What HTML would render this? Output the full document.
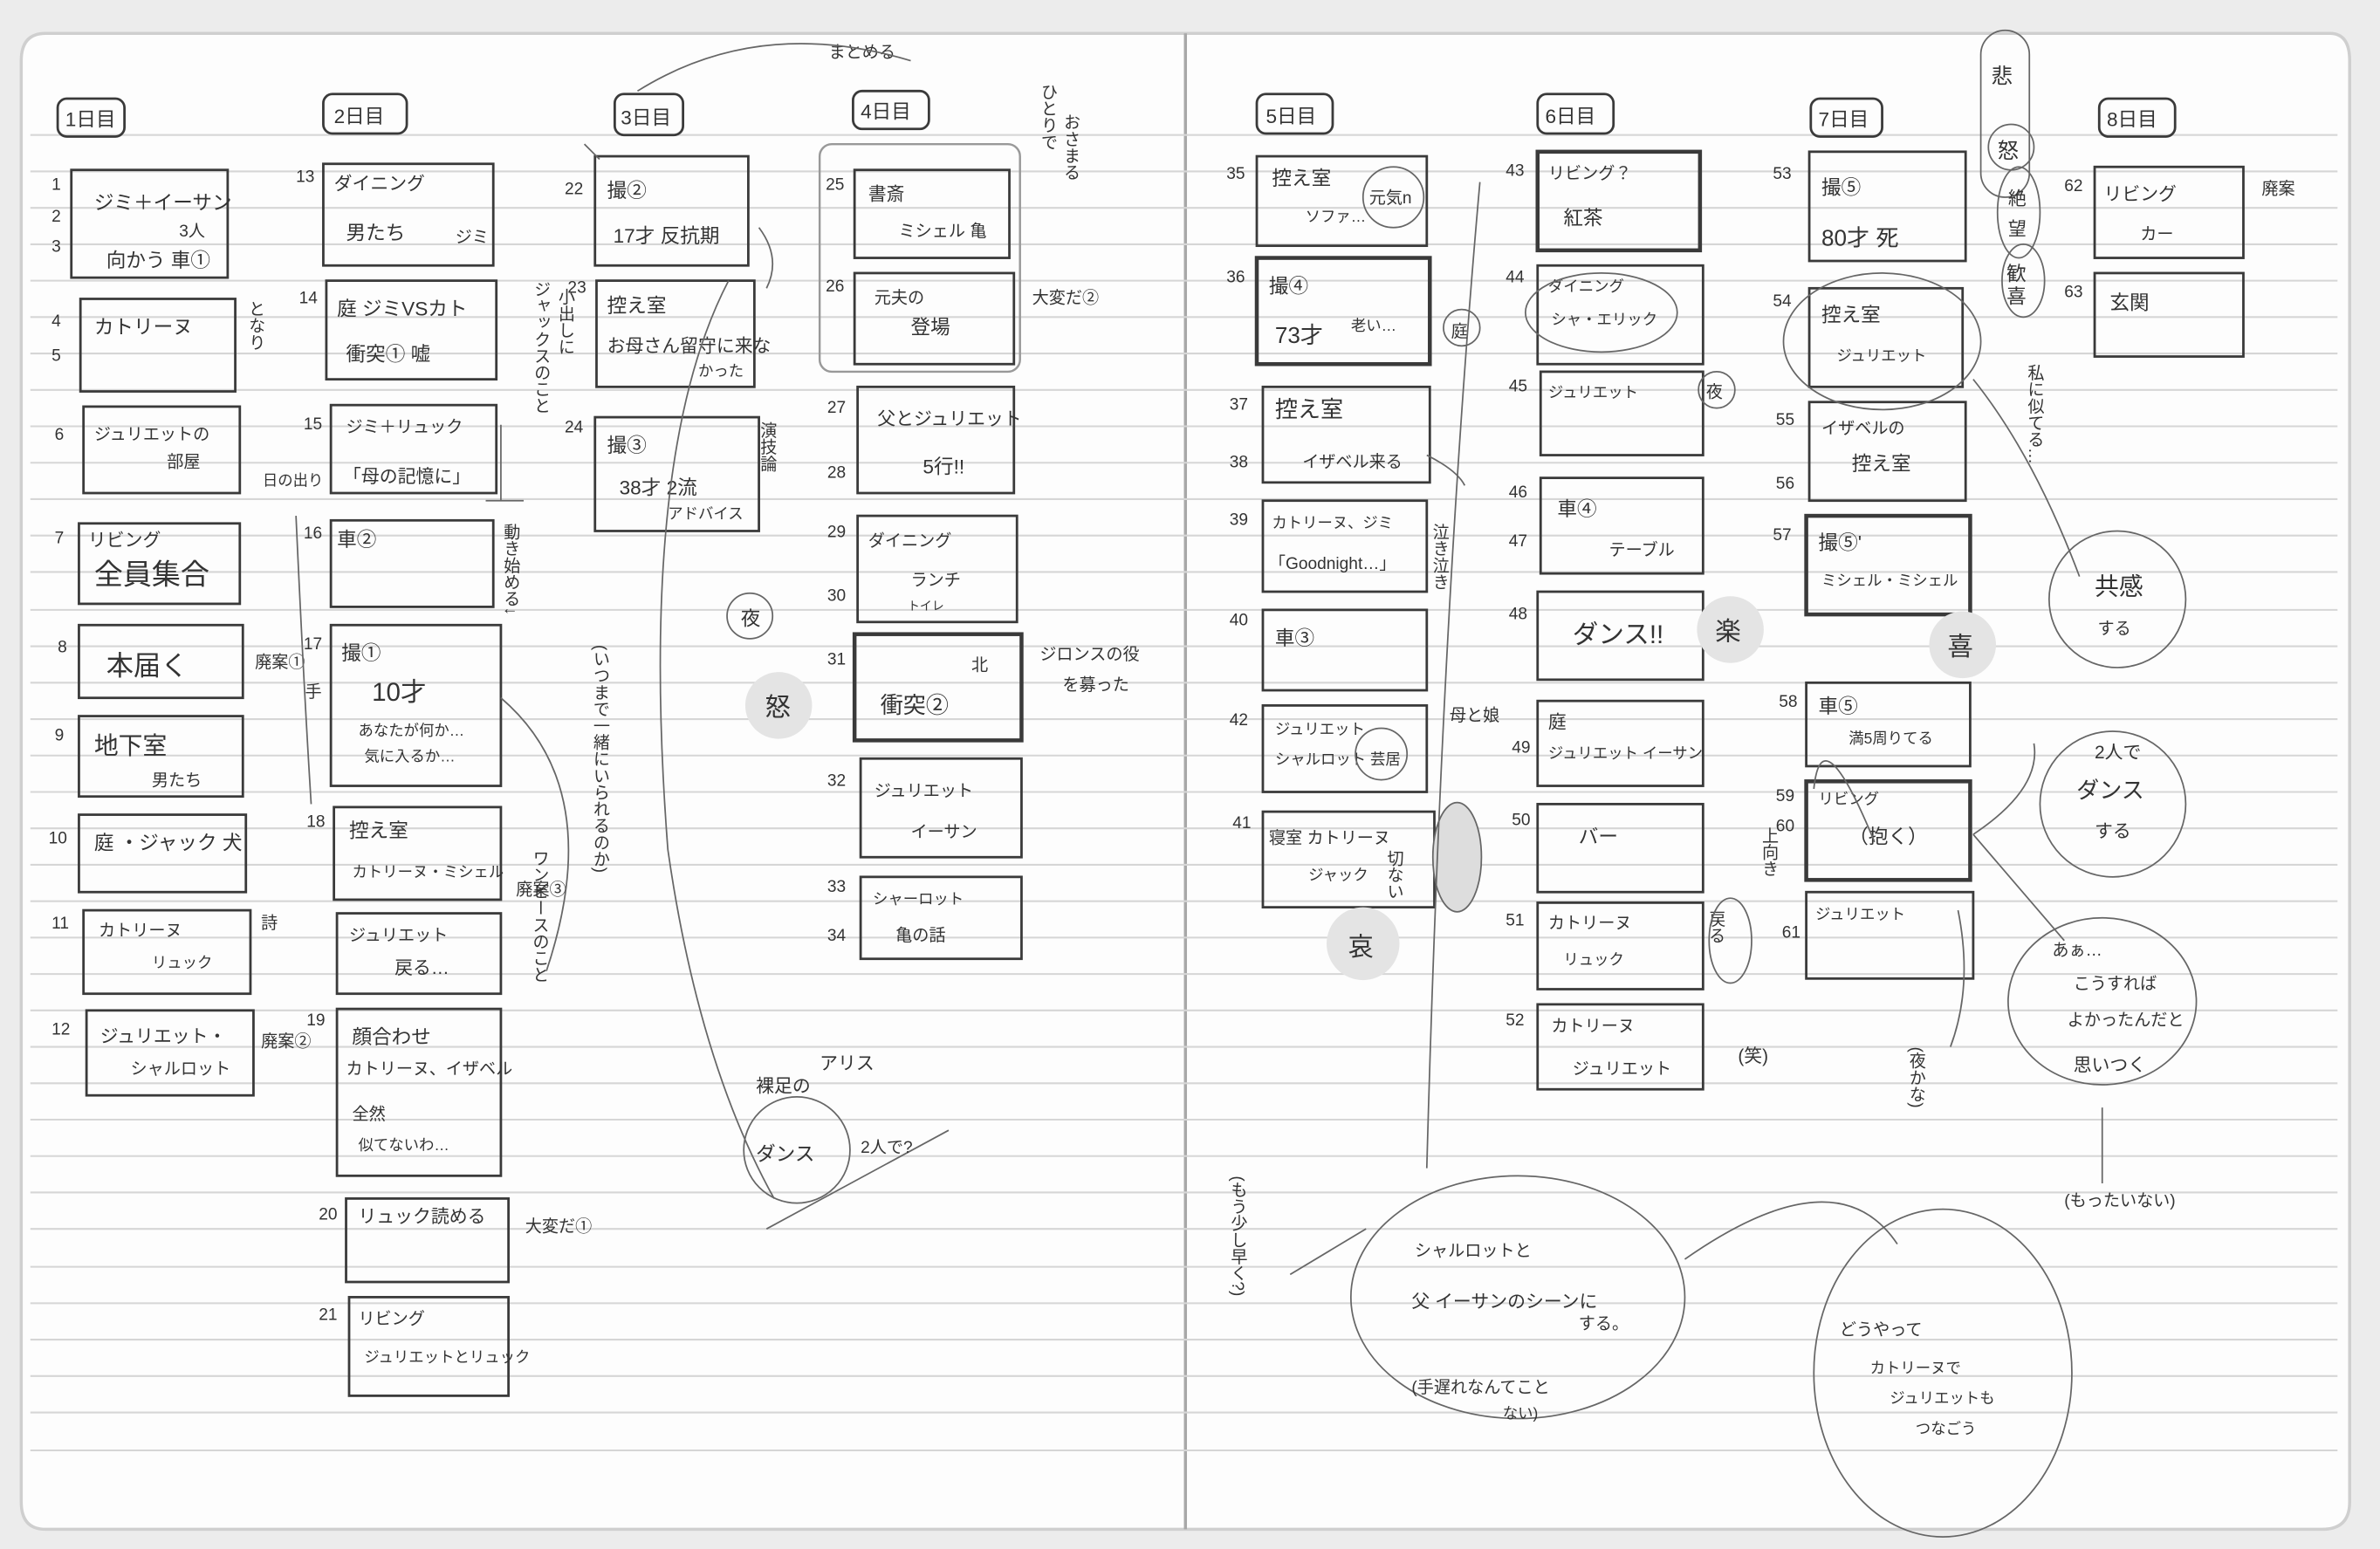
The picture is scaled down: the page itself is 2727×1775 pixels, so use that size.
<!DOCTYPE html>
<html><head><meta charset="utf-8"><style>
html,body{margin:0;padding:0;background:#e9e9e9;}
svg{display:block}
text{font-family:"Liberation Sans","Noto Sans CJK JP",sans-serif;fill:#333;}
.b{fill:none;stroke:#3a3a3a;stroke-width:1.6}
.t{fill:none;stroke:#666;stroke-width:1}
.n{font-size:11px;fill:#444}
.s{font-size:13px}
.m{font-size:16px}
</style></head><body>
<svg width="2727" height="1775" viewBox="0 0 1568 1021" preserveAspectRatio="none" xmlns="http://www.w3.org/2000/svg">
<rect x="0" y="0" width="1568" height="1021" fill="#ececec"/>
<path d="M30 22 H1535 Q1548 22 1548 40 V990 Q1548 1008 1530 1008 H30 Q14 1008 14 990 V40 Q14 22 30 22 Z" fill="#fdfdfd" stroke="#cfcfcf" stroke-width="2"/>
<line x1="781" y1="22" x2="781" y2="1008" stroke="#a8a8a8" stroke-width="2"/>
<g stroke="#d6d6d6" stroke-width="1.2">
<line x1="20" y1="89" x2="1540" y2="89"/><line x1="20" y1="113" x2="1540" y2="113"/><line x1="20" y1="137" x2="1540" y2="137"/><line x1="20" y1="161" x2="1540" y2="161"/><line x1="20" y1="185" x2="1540" y2="185"/><line x1="20" y1="209" x2="1540" y2="209"/><line x1="20" y1="233" x2="1540" y2="233"/><line x1="20" y1="257" x2="1540" y2="257"/><line x1="20" y1="281" x2="1540" y2="281"/><line x1="20" y1="305" x2="1540" y2="305"/><line x1="20" y1="329" x2="1540" y2="329"/><line x1="20" y1="353" x2="1540" y2="353"/><line x1="20" y1="377" x2="1540" y2="377"/><line x1="20" y1="402" x2="1540" y2="402"/><line x1="20" y1="426" x2="1540" y2="426"/><line x1="20" y1="450" x2="1540" y2="450"/><line x1="20" y1="474" x2="1540" y2="474"/><line x1="20" y1="498" x2="1540" y2="498"/><line x1="20" y1="522" x2="1540" y2="522"/><line x1="20" y1="546" x2="1540" y2="546"/><line x1="20" y1="570" x2="1540" y2="570"/><line x1="20" y1="594" x2="1540" y2="594"/><line x1="20" y1="618" x2="1540" y2="618"/><line x1="20" y1="642" x2="1540" y2="642"/><line x1="20" y1="666" x2="1540" y2="666"/><line x1="20" y1="690" x2="1540" y2="690"/><line x1="20" y1="714" x2="1540" y2="714"/><line x1="20" y1="738" x2="1540" y2="738"/><line x1="20" y1="762" x2="1540" y2="762"/><line x1="20" y1="786" x2="1540" y2="786"/><line x1="20" y1="810" x2="1540" y2="810"/><line x1="20" y1="835" x2="1540" y2="835"/><line x1="20" y1="859" x2="1540" y2="859"/><line x1="20" y1="883" x2="1540" y2="883"/><line x1="20" y1="907" x2="1540" y2="907"/><line x1="20" y1="931" x2="1540" y2="931"/><line x1="20" y1="956" x2="1540" y2="956"/>
</g>

<g class="b">
<rect x="38" y="65" width="44" height="25" rx="6"/><rect x="213" y="62" width="55" height="26" rx="6"/><rect x="405" y="62" width="45" height="27" rx="6"/><rect x="562" y="60" width="50" height="25" rx="6"/>
<rect x="828" y="62" width="50" height="26" rx="6"/><rect x="1013" y="62" width="50" height="26" rx="6"/><rect x="1193" y="65" width="47" height="25" rx="6"/><rect x="1383" y="65" width="50" height="25" rx="6"/>
</g>
<g class="s"><text x="43" y="83">1日目</text><text x="220" y="81">2日目</text><text x="409" y="82">3日目</text><text x="567" y="78">4日目</text><text x="834" y="81">5日目</text><text x="1018" y="81">6日目</text><text x="1198" y="83">7日目</text><text x="1388" y="83">8日目</text></g>

<g class="b">
<rect x="47" y="112" width="103" height="71"/><rect x="53" y="197" width="102" height="61"/><rect x="55" y="268" width="103" height="57"/><rect x="52" y="345" width="106" height="53"/><rect x="52" y="412" width="108" height="48"/><rect x="52" y="472" width="108" height="53"/><rect x="52" y="537" width="110" height="51"/><rect x="55" y="600" width="110" height="55"/><rect x="57" y="666" width="110" height="56"/>
<rect x="213" y="108" width="112" height="67"/><rect x="215" y="185" width="112" height="65"/><rect x="218" y="267" width="109" height="58"/><rect x="218" y="343" width="107" height="57"/><rect x="218" y="412" width="112" height="106"/><rect x="220" y="532" width="110" height="61"/><rect x="222" y="602" width="108" height="53"/><rect x="222" y="665" width="108" height="110"/><rect x="228" y="790" width="107" height="55"/><rect x="230" y="855" width="105" height="65"/>
<rect x="392" y="103" width="101" height="72"/><rect x="393" y="185" width="104" height="70"/><rect x="392" y="275" width="108" height="75"/>
<rect x="563" y="112" width="102" height="58"/><rect x="563" y="180" width="105" height="60"/><rect x="565" y="255" width="103" height="70"/><rect x="565" y="340" width="105" height="70"/><rect x="563" y="418" width="110" height="70" stroke-width="2.6"/><rect x="567" y="500" width="106" height="65"/><rect x="567" y="578" width="106" height="54"/>
<rect x="828" y="103" width="112" height="59"/><rect x="828" y="170" width="114" height="70" stroke-width="2.6"/><rect x="832" y="255" width="110" height="63"/><rect x="832" y="330" width="108" height="60"/><rect x="832" y="402" width="108" height="53"/><rect x="832" y="465" width="108" height="57"/><rect x="832" y="535" width="113" height="63"/>
<rect x="1013" y="100" width="107" height="65" stroke-width="2.6"/><rect x="1013" y="175" width="109" height="65"/><rect x="1015" y="245" width="107" height="55"/><rect x="1015" y="315" width="107" height="63"/><rect x="1013" y="390" width="109" height="58"/><rect x="1013" y="462" width="109" height="56"/><rect x="1013" y="530" width="109" height="58"/><rect x="1013" y="595" width="109" height="57"/><rect x="1013" y="662" width="109" height="56"/>
<rect x="1192" y="100" width="103" height="72"/><rect x="1192" y="190" width="101" height="65"/><rect x="1192" y="265" width="103" height="65"/><rect x="1190" y="340" width="108" height="65" stroke-width="2.6"/><rect x="1190" y="450" width="108" height="55"/><rect x="1190" y="515" width="108" height="65" stroke-width="2.6"/><rect x="1190" y="588" width="110" height="57"/>
<rect x="1380" y="110" width="98" height="60"/><rect x="1380" y="180" width="98" height="55"/>
</g>
<rect x="540" y="95" width="132" height="150" rx="8" fill="none" stroke="#999" stroke-width="1.4"/>

<g class="n">
<text x="34" y="125">1</text><text x="34" y="146">2</text><text x="34" y="166">3</text><text x="34" y="215">4</text><text x="34" y="238">5</text><text x="36" y="290">6</text><text x="36" y="358">7</text><text x="38" y="430">8</text><text x="36" y="488">9</text><text x="32" y="556">10</text><text x="34" y="612">11</text><text x="34" y="682">12</text>
<text x="195" y="120">13</text><text x="197" y="200">14</text><text x="200" y="283">15</text><text x="200" y="355">16</text><text x="200" y="428">17</text><text x="202" y="545">18</text><text x="202" y="676">19</text><text x="210" y="804">20</text><text x="210" y="870">21</text>
<text x="372" y="128">22</text><text x="374" y="193">23</text><text x="372" y="285">24</text>
<text x="544" y="125">25</text><text x="544" y="192">26</text><text x="545" y="272">27</text><text x="545" y="315">28</text><text x="545" y="354">29</text><text x="545" y="396">30</text><text x="545" y="438">31</text><text x="545" y="518">32</text><text x="545" y="588">33</text><text x="545" y="620">34</text>
<text x="808" y="118">35</text><text x="808" y="186">36</text><text x="810" y="270">37</text><text x="810" y="308">38</text><text x="810" y="346">39</text><text x="810" y="412">40</text><text x="810" y="478">42</text><text x="812" y="546">41</text>
<text x="992" y="116">43</text><text x="992" y="186">44</text><text x="994" y="258">45</text><text x="994" y="328">46</text><text x="994" y="360">47</text><text x="994" y="408">48</text><text x="996" y="496">49</text><text x="996" y="544">50</text><text x="992" y="610">51</text><text x="992" y="676">52</text>
<text x="1168" y="118">53</text><text x="1168" y="202">54</text><text x="1170" y="280">55</text><text x="1170" y="322">56</text><text x="1168" y="356">57</text><text x="1172" y="466">58</text><text x="1170" y="528">59</text><text x="1170" y="548">60</text><text x="1174" y="618">61</text>
<text x="1360" y="126">62</text><text x="1360" y="196">63</text>
</g>

<g class="s">
<text x="62" y="138">ジミ＋イーサン</text><text x="118" y="156" font-size="11">3人</text><text x="70" y="176">向かう 車①</text>
<text x="62" y="220">カトリーヌ</text><text x="62" y="290" font-size="11">ジュリエットの</text><text x="110" y="308" font-size="11">部屋</text>
<text x="58" y="360" font-size="12">リビング</text><text x="62" y="385" font-size="19">全員集合</text>
<text x="70" y="445" font-size="18">本届く</text><text x="62" y="497" font-size="16">地下室</text><text x="100" y="518" font-size="11">男たち</text>
<text x="62" y="560">庭 ・ジャック 犬</text><text x="65" y="617" font-size="11">カトリーヌ</text><text x="100" y="638" font-size="10">リュック</text>
<text x="66" y="687" font-size="12">ジュリエット・</text><text x="86" y="708" font-size="11">シャルロット</text>
<text x="220" y="125" font-size="12">ダイニング</text><text x="228" y="158">男たち</text><text x="300" y="160" font-size="11">ジミ</text>
<text x="222" y="208">庭 ジミVSカト</text><text x="228" y="238">衝突① 嘘</text>
<text x="228" y="285" font-size="11">ジミ＋リュック</text><text x="226" y="318" font-size="12">「母の記憶に」</text>
<text x="222" y="360">車②</text><text x="225" y="435">撮①</text><text x="245" y="462" font-size="17">10才</text><text x="236" y="485" font-size="10">あなたが何か…</text><text x="240" y="502" font-size="10">気に入るか…</text>
<text x="230" y="552">控え室</text><text x="232" y="578" font-size="10">カトリーヌ・ミシェル</text>
<text x="230" y="620" font-size="11">ジュリエット</text><text x="260" y="642" font-size="12">戻る…</text>
<text x="232" y="688">顔合わせ</text><text x="228" y="708" font-size="11">カトリーヌ、イザベル</text><text x="232" y="738" font-size="11">全然</text><text x="236" y="758" font-size="10">似てないわ…</text>
<text x="236" y="806" font-size="12">リュック読める</text><text x="236" y="873" font-size="11">リビング</text><text x="240" y="898" font-size="10">ジュリエットとリュック</text>
<text x="400" y="130">撮②</text><text x="404" y="160">17才 反抗期</text>
<text x="400" y="206">控え室</text><text x="400" y="232" font-size="12">お母さん留守に来な</text><text x="460" y="248" font-size="10">かった</text>
<text x="400" y="298">撮③</text><text x="408" y="326">38才 2流</text><text x="440" y="342" font-size="10">アドバイス</text>
<text x="572" y="132" font-size="12">書斎</text><text x="592" y="156" font-size="11">ミシェル 亀</text>
<text x="576" y="200" font-size="11">元夫の</text><text x="600" y="220">登場</text>
<text x="578" y="280" font-size="12">父とジュリエット</text><text x="608" y="312">5行!!</text>
<text x="572" y="360" font-size="11">ダイニング</text><text x="600" y="386" font-size="11">ランチ</text><text x="598" y="402" font-size="8">トイレ</text>
<text x="580" y="470" font-size="15">衝突②</text><text x="640" y="442" font-size="11">北</text>
<text x="576" y="525" font-size="11">ジュリエット</text><text x="600" y="552" font-size="11">イーサン</text>
<text x="575" y="596" font-size="10">シャーロット</text><text x="590" y="620" font-size="11">亀の話</text>
<text x="838" y="122">控え室</text><text x="860" y="146" font-size="10">ソファ…</text><text x="902" y="134" font-size="11">元気n</text>
<text x="836" y="193">撮④</text><text x="840" y="226" font-size="15">73才</text><text x="890" y="218" font-size="10">老い…</text>
<text x="840" y="275" font-size="15">控え室</text><text x="858" y="308" font-size="11">イザベル来る</text>
<text x="838" y="348" font-size="10">カトリーヌ、ジミ</text><text x="836" y="375" font-size="11">「Goodnight…」</text>
<text x="840" y="425">車③</text><text x="840" y="484" font-size="10">ジュリエット</text><text x="840" y="504" font-size="10">シャルロット 芸居</text>
<text x="836" y="556" font-size="11">寝室 カトリーヌ</text><text x="862" y="580" font-size="10">ジャック</text>
<text x="1020" y="118" font-size="11">リビング？</text><text x="1030" y="148">紅茶</text>
<text x="1020" y="192" font-size="10">ダイニング</text><text x="1022" y="214" font-size="10">シャ・エリック</text>
<text x="1020" y="262" font-size="10">ジュリエット</text><text x="1026" y="340">車④</text><text x="1060" y="366" font-size="11">テーブル</text>
<text x="1036" y="424" font-size="17">ダンス!!</text><text x="1020" y="480" font-size="12">庭</text><text x="1020" y="500" font-size="10">ジュリエット イーサン</text>
<text x="1040" y="556">バー</text><text x="1020" y="612" font-size="11">カトリーヌ</text><text x="1030" y="636" font-size="10">リュック</text>
<text x="1022" y="680" font-size="11">カトリーヌ</text><text x="1036" y="708" font-size="11">ジュリエット</text>
<text x="1200" y="128">撮⑤</text><text x="1200" y="162" font-size="15">80才 死</text>
<text x="1200" y="212">控え室</text><text x="1210" y="238" font-size="10">ジュリエット</text>
<text x="1200" y="286" font-size="11">イザベルの</text><text x="1220" y="310">控え室</text>
<text x="1198" y="362">撮⑤'</text><text x="1200" y="386" font-size="10">ミシェル・ミシェル</text>
<text x="1198" y="470">車⑤</text><text x="1218" y="490" font-size="10">満5周りてる</text>
<text x="1198" y="530" font-size="10">リビング</text><text x="1218" y="556">（抱く）</text>
<text x="1196" y="606" font-size="10">ジュリエット</text>
<text x="1386" y="132" font-size="12">リビング</text><text x="1410" y="158" font-size="11">カー</text><text x="1390" y="204">玄関</text>
</g>

<g font-size="11" fill="#555">
<text x="168" y="440">廃案①</text><text x="172" y="612">詩</text><text x="172" y="690">廃案②</text><text x="340" y="590">廃案③</text>
<text x="346" y="812">大変だ①</text><text x="680" y="200">大変だ②</text><text x="685" y="435">ジロンスの役</text><text x="700" y="455">を募った</text>
<text x="1490" y="128">廃案</text><text x="173" y="320" font-size="10">日の出り</text><text x="546" y="38">まとめる</text>
<text x="1360" y="795">(もったいない)</text>
</g>
<g font-size="11" fill="#555" writing-mode="tb">
<text x="168" y="198">となり</text><text x="356" y="185">ジャックスのこと</text><text x="372" y="190">小出しに</text><text x="505" y="278">演技論</text>
<text x="336" y="345">動き始める↓</text><text x="355" y="560">ワンピースのこと</text><text x="205" y="450">手</text>
<text x="395" y="425">(いつまで一緒にいられるのか)</text><text x="948" y="345">泣き泣き</text><text x="1130" y="600">戻る</text><text x="1165" y="545">上向き</text>
<text x="1340" y="240">私に似てる…</text><text x="815" y="775">(もう少し早く?)</text><text x="918" y="560">切ない</text><text x="690" y="55">ひとりで</text><text x="705" y="75">おさまる</text>
<text x="1262" y="690">(夜かな)</text>
</g>

<g fill="#e4e4e4" stroke="none">
<circle cx="513" cy="465" r="22"/><circle cx="898" cy="622" r="24"/><circle cx="1140" cy="415" r="22"/><circle cx="1293" cy="425" r="22"/>
</g>
<g font-size="17" fill="#444"><text x="504" y="472">怒</text><text x="888" y="630">哀</text><text x="1130" y="422">楽</text><text x="1283" y="432">喜</text></g>
<g class="t">
<circle cx="494" cy="406" r="15"/><circle cx="963" cy="216" r="12"/><circle cx="1131" cy="257" r="12"/><circle cx="918" cy="130" r="20"/><circle cx="910" cy="497" r="17"/>
<ellipse cx="1000" cy="855" rx="110" ry="80"/><ellipse cx="1280" cy="905" rx="85" ry="108"/>
<circle cx="1395" cy="395" r="45"/><circle cx="1392" cy="530" r="48"/><ellipse cx="1385" cy="660" rx="62" ry="55"/>
<circle cx="525" cy="758" r="35"/><ellipse cx="1240" cy="225" rx="65" ry="45"/><ellipse cx="1055" cy="206" rx="50" ry="26"/>
<rect x="1305" y="20" width="32" height="110" rx="16"/><circle cx="1325" cy="97" r="15"/><ellipse cx="1330" cy="140" rx="14" ry="30"/><ellipse cx="1333" cy="185" rx="14" ry="24"/>
<ellipse cx="960" cy="565" rx="16" ry="36" fill="#ddd"/><ellipse cx="1140" cy="620" rx="14" ry="28"/>
<path d="M420 60 Q500 10 600 40"/><path d="M500 150 Q515 170 505 190"/><path d="M480 185 Q420 300 440 560 Q460 700 510 790"/>
<path d="M505 810 L625 745"/><path d="M940 770 Q950 400 975 120"/><path d="M1110 830 Q1210 760 1250 820"/><path d="M1300 250 Q1340 300 1370 380"/>
<path d="M1300 550 Q1345 520 1340 490"/><path d="M1300 550 L1360 620"/><path d="M1290 600 Q1300 650 1285 690"/><path d="M1385 730 V780"/>
<path d="M900 810 L850 840"/><path d="M330 460 Q400 520 360 640"/><path d="M330 280 V330 M320 330 H345"/><path d="M940 300 Q960 310 965 320"/>
<path d="M1195 520 Q1200 470 1235 555" /><path d="M195 340 Q200 450 205 530"/><path d="M385 95 L395 105"/>
</g>
<g font-size="14" fill="#444">
<text x="1312" y="55">悲</text><text x="1316" y="104">怒</text><text x="1323" y="135" font-size="12">絶</text><text x="1323" y="155" font-size="12">望</text><text x="1322" y="185" font-size="13">歓</text><text x="1322" y="200" font-size="13">喜</text>
<text x="1380" y="392" font-size="16">共感</text><text x="1382" y="418" font-size="11">する</text>
<text x="1380" y="500" font-size="12">2人で</text><text x="1368" y="526" font-size="15">ダンス</text><text x="1380" y="552" font-size="12">する</text>
<text x="1352" y="630" font-size="11">あぁ…</text><text x="1366" y="652" font-size="11">こうすれば</text><text x="1362" y="676" font-size="11">よかったんだと</text><text x="1366" y="706" font-size="12">思いつく</text>
<text x="498" y="765" font-size="13">ダンス</text><text x="567" y="760" font-size="11">2人で?</text><text x="498" y="720" font-size="12">裸足の</text><text x="540" y="705" font-size="12">アリス</text>
<text x="932" y="828" font-size="11">シャルロットと</text><text x="930" y="862" font-size="12">父 イーサンのシーンに</text><text x="1040" y="876" font-size="11">する。</text><text x="930" y="918" font-size="11">(手遅れなんてこと</text><text x="990" y="935" font-size="10">ない)</text>
<text x="1212" y="880" font-size="11">どうやって</text><text x="1232" y="905" font-size="10">カトリーヌで</text><text x="1245" y="925" font-size="10">ジュリエットも</text><text x="1262" y="945" font-size="10">つなごう</text>
<text x="488" y="412" font-size="13">夜</text><text x="956" y="222" font-size="11">庭</text><text x="1124" y="262" font-size="11">夜</text>
<text x="1145" y="700" font-size="12">(笑)</text><text x="955" y="475" font-size="11">母と娘</text>
</g>
</svg>
</body></html>
